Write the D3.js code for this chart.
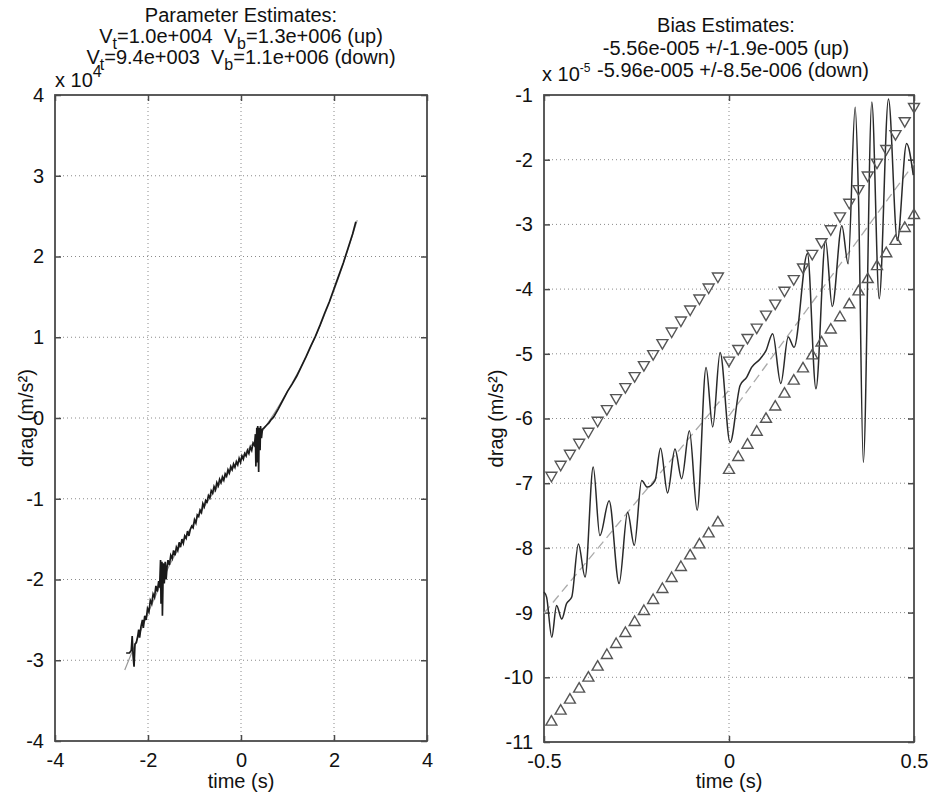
<!DOCTYPE html>
<html><head><meta charset="utf-8">
<script src="https://cdn.jsdelivr.net/npm/d3@7"></script>
<style>
body{margin:0;background:#fff}
text{font-family:"Liberation Sans",Arial,sans-serif;fill:#111}
</style>
</head><body><svg id="c" width="931" height="798" xmlns="http://www.w3.org/2000/svg"></svg>
<script>
// ---------- Left panel data (drag in units of 1e4) ----------
const leftTime=[-2.47,-2.40,-2.36,-2.34,-2.32,-2.30,-2.28,-2.25,-2.22,-2.20,-2.18,-2.15,-2.12,-2.10,-2.07,-2.04,-2.01,-1.98,-1.95,-1.92,-1.89,-1.86,-1.83,-1.80,-1.77,-1.75,-1.73,-1.72,-1.70,-1.69,-1.67,-1.65,-1.63,-1.61,-1.59,-1.57,-1.54,-1.51,-1.48,-1.45,-1.42,-1.39,-1.36,-1.33,-1.30,-1.27,-1.24,-1.21,-1.18,-1.15,-1.12,-1.09,-1.06,-1.03,-1.00,-0.97,-0.94,-0.91,-0.88,-0.85,-0.82,-0.79,-0.76,-0.73,-0.70,-0.67,-0.64,-0.61,-0.58,-0.55,-0.52,-0.49,-0.46,-0.43,-0.40,-0.37,-0.34,-0.31,-0.28,-0.25,-0.22,-0.19,-0.16,-0.13,-0.10,-0.07,-0.04,-0.01,0.02,0.05,0.08,0.11,0.14,0.17,0.20,0.23,0.26,0.29,0.31,0.32,0.34,0.35,0.36,0.38,0.39,0.41,0.42,0.44,0.46,0.50,0.55,0.60,0.65,0.70,0.80,0.90,1.00,1.10,1.20,1.30,1.40,1.50,1.60,1.70,1.80,1.90,2.00,2.10,2.20,2.30,2.40,2.47];
const leftDrag=[-2.91,-2.91,-2.88,-2.70,-2.95,-3.08,-2.80,-2.78,-2.70,-2.62,-2.72,-2.58,-2.50,-2.60,-2.45,-2.50,-2.36,-2.40,-2.26,-2.30,-2.18,-2.22,-2.08,-2.15,-2.02,-2.10,-1.76,-2.30,-1.78,-2.45,-1.80,-2.05,-1.78,-2.00,-1.84,-1.76,-1.82,-1.70,-1.74,-1.64,-1.70,-1.60,-1.64,-1.54,-1.60,-1.50,-1.55,-1.46,-1.49,-1.40,-1.46,-1.38,-1.34,-1.36,-1.26,-1.30,-1.20,-1.22,-1.14,-1.17,-1.06,-1.10,-1.02,-1.04,-0.96,-0.99,-0.90,-0.93,-0.85,-0.89,-0.80,-0.84,-0.76,-0.80,-0.73,-0.77,-0.69,-0.72,-0.64,-0.68,-0.60,-0.64,-0.57,-0.61,-0.54,-0.58,-0.50,-0.55,-0.47,-0.51,-0.44,-0.47,-0.40,-0.44,-0.36,-0.40,-0.31,-0.34,-0.20,-0.60,-0.12,-0.55,-0.10,-0.67,-0.12,-0.40,-0.10,-0.25,-0.14,-0.12,-0.09,-0.06,-0.02,0.01,0.11,0.22,0.33,0.42,0.52,0.64,0.76,0.89,1.01,1.15,1.30,1.44,1.60,1.76,1.92,2.10,2.28,2.43];
const leftFitTime=[-2.5,-2.0,-1.5,-1.0,-0.5,0.0,0.5,1.0,1.5,2.0,2.5];
const leftFitDrag=[-3.12,-2.42,-1.78,-1.29,-0.85,-0.50,-0.13,0.33,0.88,1.58,2.45];
const leftXTicks=[-4,-2,0,2,4];
const leftYTicks=[-4,-3,-2,-1,0,1,2,3,4];

// ---------- Right panel data (bias in units of 1e-5) ----------
const rightTime=[-0.500,-0.493,-0.479,-0.466,-0.452,-0.439,-0.425,-0.407,-0.389,-0.367,-0.349,-0.324,-0.297,-0.274,-0.256,-0.236,-0.221,-0.200,-0.185,-0.166,-0.146,-0.128,-0.107,-0.086,-0.062,-0.044,-0.024,0.003,0.030,0.048,0.061,0.084,0.100,0.118,0.140,0.160,0.176,0.212,0.235,0.261,0.279,0.305,0.322,0.341,0.350,0.363,0.386,0.406,0.431,0.455,0.480,0.498];
const rightBias=[-8.68,-8.76,-9.38,-8.89,-9.10,-8.86,-8.76,-7.94,-8.45,-6.75,-7.81,-7.27,-8.55,-7.45,-7.96,-6.96,-7.06,-6.96,-6.46,-7.15,-6.47,-6.93,-6.19,-7.42,-5.21,-6.13,-4.98,-6.37,-5.49,-5.36,-5.21,-5.08,-4.95,-4.69,-5.46,-4.74,-4.90,-3.45,-5.54,-3.25,-4.27,-3.02,-3.61,-1.19,-2.58,-6.68,-1.11,-4.15,-1.06,-3.25,-1.75,-2.24];
const fitUpTime=[-0.5,0.0];
const fitUpBias=[-9.01,-5.56];
const fitDownTime=[0.0,0.5];
const fitDownBias=[-5.96,-2.06];
const boundLeftTime=[-0.480,-0.455,-0.430,-0.405,-0.380,-0.355,-0.330,-0.305,-0.280,-0.255,-0.230,-0.205,-0.180,-0.155,-0.130,-0.105,-0.080,-0.055,-0.030];
const upperLeft=[-6.88,-6.71,-6.54,-6.37,-6.20,-6.03,-5.85,-5.68,-5.51,-5.34,-5.17,-5.00,-4.83,-4.65,-4.48,-4.31,-4.14,-3.97,-3.80];
const lowerLeft=[-10.69,-10.52,-10.35,-10.18,-10.01,-9.84,-9.66,-9.49,-9.32,-9.15,-8.98,-8.81,-8.64,-8.47,-8.30,-8.12,-7.95,-7.78,-7.61];
const boundRightTime=[0.000,0.025,0.050,0.075,0.100,0.125,0.150,0.175,0.200,0.225,0.250,0.275,0.300,0.325,0.350,0.375,0.400,0.425,0.450,0.475,0.500];
const upperRight=[-5.10,-4.92,-4.75,-4.59,-4.39,-4.22,-4.02,-3.84,-3.66,-3.45,-3.27,-3.07,-2.87,-2.66,-2.45,-2.24,-2.04,-1.83,-1.60,-1.40,-1.18];
const lowerRight=[-6.80,-6.60,-6.41,-6.21,-6.01,-5.82,-5.62,-5.42,-5.23,-5.03,-4.83,-4.63,-4.44,-4.24,-4.04,-3.85,-3.65,-3.45,-3.26,-3.06,-2.86];
const rightXTicks=[-0.5,0,0.5];
const rightYTicks=[-11,-10,-9,-8,-7,-6,-5,-4,-3,-2,-1];

const svg=d3.select("#c");
const FS=20;
const AX="#4a4a4a";
const plain=d=>String(d);

function panel(o){
  const g=svg.append("g");
  const x=d3.scaleLinear().domain(o.xd).range([o.x0,o.x1]);
  const y=d3.scaleLinear().domain(o.yd).range([o.y1,o.y0]);
  const W=o.x1-o.x0,H=o.y1-o.y0;
  const grid=g.append("g").attr("stroke","#8a8a8a").attr("stroke-width",1).attr("stroke-dasharray","1,3");
  grid.selectAll(".gx").data(o.xt.slice(1,-1)).join("line")
    .attr("x1",d=>x(d)).attr("x2",d=>x(d)).attr("y1",o.y0).attr("y2",o.y1);
  grid.selectAll(".gy").data(o.yt.slice(1,-1)).join("line")
    .attr("y1",d=>y(d)).attr("y2",d=>y(d)).attr("x1",o.x0).attr("x2",o.x1);
  const styleAx=(sel,lab)=>{sel.select(".domain").remove();
    sel.selectAll(".tick line").attr("stroke",AX).attr("stroke-width",1.5);
    sel.selectAll(".tick text").style("font-size",FS+"px").attr("fill","#111").style("font-family",'"Liberation Sans",Arial,sans-serif');
    if(!lab) sel.selectAll(".tick text").remove();};
  g.append("g").attr("transform",`translate(0,${o.y1})`)
    .call(d3.axisBottom(x).tickValues(o.xt).tickFormat(plain).tickSizeInner(-6).tickSizeOuter(0).tickPadding(12))
    .call(s=>styleAx(s,true));
  g.append("g").attr("transform",`translate(0,${o.y0})`)
    .call(d3.axisTop(x).tickValues(o.xt).tickSizeInner(-6).tickSizeOuter(0))
    .call(s=>styleAx(s,false));
  g.append("g").attr("transform",`translate(${o.x0},0)`)
    .call(d3.axisLeft(y).tickValues(o.yt).tickFormat(plain).tickSizeInner(-6).tickSizeOuter(0).tickPadding(11))
    .call(s=>styleAx(s,true));
  g.append("g").attr("transform",`translate(${o.x1},0)`)
    .call(d3.axisRight(y).tickValues(o.yt).tickSizeInner(-6).tickSizeOuter(0))
    .call(s=>styleAx(s,false));
  g.append("rect").attr("x",o.x0).attr("y",o.y0).attr("width",W).attr("height",H)
    .attr("fill","none").attr("stroke",AX).attr("stroke-width",1.8);
  g.append("text").attr("x",(o.x0+o.x1)/2).attr("y",788).attr("text-anchor","middle")
    .style("font-size",FS+"px").text("time (s)");
  g.append("text").attr("transform",`translate(${o.ylx},${(o.y0+o.y1)/2}) rotate(-90)`)
    .attr("text-anchor","middle").style("font-size",FS+"px").text("drag (m/s²)");
  return {g,x,y};
}

function subLine(g,cx,by,parts){
  const t=g.append("text").attr("x",cx).attr("y",by).attr("text-anchor","middle")
    .style("font-size",FS+"px").style("white-space","pre");
  let lowered=false;
  parts.forEach(p=>{
    if(p.sub){ t.append("tspan").attr("dy",lowered?0:6).style("font-size","16px").text(p.sub); lowered=true; }
    else { const s=t.append("tspan").text(p.t); if(lowered){ s.attr("dy",-6); lowered=false; } }
  });
}

// ---------- Left panel ----------
const L=panel({x0:55,x1:427,y0:95,y1:741,xd:[-4,4],yd:[-4,4],xt:leftXTicks,yt:leftYTicks,ylx:33});
const leftFit=leftFitTime.map((t,i)=>[t,leftFitDrag[i]]);
L.g.append("path").datum(leftFit).attr("fill","none").attr("stroke","#9a9a9a").attr("stroke-width",1.2)
  .attr("d",d3.line().x(d=>L.x(d[0])).y(d=>L.y(d[1])).curve(d3.curveCatmullRom));
const leftPts=leftTime.map((t,i)=>[t,leftDrag[i]]);
L.g.append("path").datum(leftPts).attr("fill","none").attr("stroke","#1a1a1a").attr("stroke-width",1.7)
  .attr("d",d3.line().x(d=>L.x(d[0])).y(d=>L.y(d[1])));
const lt=svg.append("g");
subLine(lt,241,22,[{t:"Parameter Estimates:"}]);
subLine(lt,241,43,[{t:"V"},{sub:"t"},{t:"=1.0e+004  V"},{sub:"b"},{t:"=1.3e+006 (up)"}]);
subLine(lt,241,64,[{t:"V"},{sub:"t"},{t:"=9.4e+003  V"},{sub:"b"},{t:"=1.1e+006 (down)"}]);
const m1=lt.append("text").attr("x",55).attr("y",87).style("font-size",FS+"px");
m1.append("tspan").text("x 10");
m1.append("tspan").attr("dy",-10).style("font-size","16px").text("4");

// ---------- Right panel ----------
const R=panel({x0:544,x1:914,y0:95,y1:742,xd:[-0.5,0.5],yd:[-11,-1],xt:rightXTicks,yt:rightYTicks,ylx:503});
const fitLine=d3.line().x(d=>R.x(d[0])).y(d=>R.y(d[1]));
[[fitUpTime,fitUpBias],[fitDownTime,fitDownBias]].forEach(([ts,bs])=>{
  R.g.append("path").datum(ts.map((t,i)=>[t,bs[i]])).attr("fill","none").attr("stroke","#ababab")
    .attr("stroke-width",1.3).attr("stroke-dasharray","9,5").attr("d",fitLine);
});
const rPts=rightTime.map((t,i)=>[t,rightBias[i]]);
R.g.append("path").datum(rPts).attr("fill","none").attr("stroke","#2a2a2a").attr("stroke-width",1.5)
  .attr("d",d3.line().x(d=>R.x(d[0])).y(d=>R.y(d[1])).curve(d3.curveMonotoneX));
const tri=d3.symbol().type(d3.symbolTriangle).size(52);
function markers(ts,vs,down){
  R.g.append("g").selectAll("path").data(ts.map((t,i)=>[t,vs[i]])).join("path")
    .attr("d",tri).attr("fill","none").attr("stroke","#555").attr("stroke-width",1.4)
    .attr("transform",d=>`translate(${R.x(d[0])},${R.y(d[1])})${down?" rotate(180)":""}`);
}
markers(boundLeftTime,upperLeft,true);
markers(boundRightTime,upperRight,true);
markers(boundLeftTime,lowerLeft,false);
markers(boundRightTime,lowerRight,false);
const rt=svg.append("g");
subLine(rt,726,32,[{t:"Bias Estimates:"}]);
subLine(rt,726,55,[{t:"-5.56e-005 +/-1.9e-005 (up)"}]);
subLine(rt,733,77,[{t:"-5.96e-005 +/-8.5e-006 (down)"}]);
const m2=rt.append("text").attr("x",542).attr("y",81).style("font-size",FS+"px");
m2.append("tspan").text("x 10");
m2.append("tspan").attr("dy",-9).style("font-size","12px").text("-5");
</script></body></html>
